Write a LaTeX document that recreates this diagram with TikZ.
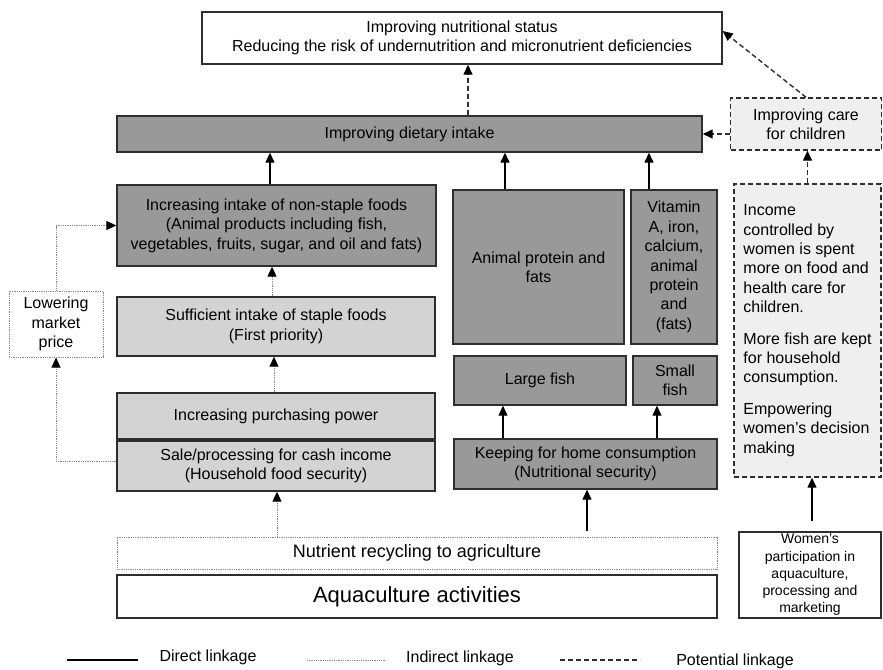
\documentclass[tikz,border=0pt]{standalone}
\usepackage{fontspec}
\setmainfont{Liberation Sans}
\usetikzlibrary{arrows.meta}
\definecolor{dk}{HTML}{999999}
\definecolor{lt}{HTML}{D3D3D3}
\definecolor{vl}{HTML}{EFEFEF}
\definecolor{edge}{HTML}{2E2E2E}
\definecolor{dotc}{HTML}{8A8A8A}
\begin{document}
\begin{tikzpicture}[x=1pt,y=-1pt,
  box/.style={draw=edge, line width=1.4pt, inner sep=2pt, align=center, font=\fontsize{16}{19.4}\selectfont},
  darkbox/.style={box, fill=dk},
  lightbox/.style={box, fill=lt},
  whitebox/.style={box, fill=white},
  dotbox/.style={box, fill=white, draw=dotc, line width=1pt, dash pattern=on 1pt off 0.8pt},
  potbox/.style={box, fill=vl, dash pattern=on 5pt off 3pt},
  tip/.style={-{Triangle[length=10pt,width=9pt,color=black]}},
  arr/.style={draw=black, line width=1.3pt, tip},
  ind/.style={draw=dotc, line width=1pt, dash pattern=on 1pt off 0.8pt, tip},
  pot/.style={draw=edge, line width=1.4pt, dash pattern=on 5pt off 3pt, tip},
  legend/.style={font=\fontsize{16}{18}\selectfont, inner sep=0pt}
]
\useasboundingbox (0,0) rectangle (883,669);

% nodes
\node[whitebox, minimum width=520, minimum height=52] (top) at (462,38)
  {Improving nutritional status\\Reducing the risk of undernutrition and micronutrient deficiencies};
\node[darkbox, minimum width=585, minimum height=36] (diet) at (409.5,134) {Improving dietary intake};
\node[darkbox, minimum width=319, minimum height=81] (nonstaple) at (276.5,225.5)
  {Increasing intake of non-staple foods\\(Animal products including fish,\\vegetables, fruits, sugar, and oil and fats)};
\node[dotbox, minimum width=94, minimum height=66] (lower) at (56,324) {Lowering\\market\\price};
\node[lightbox, minimum width=318, minimum height=59] (staple) at (276,326.5)
  {Sufficient intake of staple foods\\(First priority)};
\node[lightbox, minimum width=318, minimum height=46] (purch) at (276,416) {Increasing purchasing power};
\node[lightbox, minimum width=318, minimum height=50] (sale) at (276,466)
  {Sale/processing for cash income\\(Household food security)};
\node[dotbox, minimum width=600, minimum height=32, font=\fontsize{18}{20}\selectfont] (nutr) at (417,553)
  {Nutrient recycling to agriculture};
\node[whitebox, minimum width=600, minimum height=43, font=\fontsize{22}{25}\selectfont] (aqua) at (417,596.5)
  {Aquaculture activities};
\node[darkbox, minimum width=171, minimum height=154] (animal) at (538.5,267) {Animal protein and\\fats};
\node[darkbox, minimum width=86, minimum height=154] (vitamin) at (674,267)
  {Vitamin\\A, iron,\\calcium,\\animal\\protein\\and\\(fats)};
\node[darkbox, minimum width=172, minimum height=49] (large) at (540,380.5) {Large fish};
\node[darkbox, minimum width=84, minimum height=49] (small) at (675,380.5) {Small\\fish};
\node[darkbox, minimum width=263, minimum height=50] (keep) at (585.5,464)
  {Keeping for home consumption\\(Nutritional security)};
\node[potbox, minimum width=151, minimum height=52] (care) at (806,124) {Improving care\\for children};
\node[potbox, minimum width=147, minimum height=293, align=left] (income) at (807.5,330.5)
  {Income\\controlled by\\women is spent\\more on food and\\health care for\\children.\\[12pt]More fish are kept\\for household\\consumption.\\[12pt]Empowering\\women's decision\\making};
\node[whitebox, minimum width=142, minimum height=86, font=\fontsize{14}{17.3}\selectfont] (women) at (810,575)
  {Women's\\participation in\\aquaculture,\\processing and\\marketing};

% column coordinates
\coordinate (xa) at (270,0);
\coordinate (xb) at (272,0);
\coordinate (xc) at (274,0);
\coordinate (xd) at (277,0);
\coordinate (xe) at (505,0);
\coordinate (xf) at (649,0);
\coordinate (xg) at (503,0);
\coordinate (xh) at (657,0);
\coordinate (xi) at (587,0);
\coordinate (xj) at (468,0);
\coordinate (xm) at (812,0);

% direct linkages
\draw[arr] (xa |- nonstaple.north) -- (xa |- diet.south);
\draw[arr] (xe |- animal.north) -- (xe |- diet.south);
\draw[arr] (xf |- vitamin.north) -- (xf |- diet.south);
\draw[arr] (xg |- keep.north) -- (xg |- large.south);
\draw[arr] (xh |- keep.north) -- (xh |- small.south);
\draw[arr, shorten <=6pt] (xi |- nutr.north) -- (xi |- keep.south);
\draw[arr, shorten <=10pt] (xm |- women.north) -- (xm |- income.south);

% indirect linkages
\draw[ind] (xb |- staple.north) -- (xb |- nonstaple.south);
\draw[ind] (xc |- purch.north) -- (xc |- staple.south);
\draw[ind] (xd |- nutr.north) -- (xd |- sale.south);
\draw[ind] ([yshift=5pt]sale.west) -| (lower.south);
\draw[ind] (lower.north) |- (nonstaple.west);

% potential linkages
\draw[pot] (xj |- diet.north) -- (xj |- top.south);
\draw[pot] (care.north) -- ([yshift=7pt]top.east);
\draw[pot] (care.west |- diet.east) -- (diet.east);
\draw[pot] (income.north) -- (income.north |- care.south);

% legend
\coordinate (l1a) at (67,660); \coordinate (l1b) at (138,660);
\coordinate (l2a) at (307,660); \coordinate (l2b) at (386,660);
\coordinate (l3a) at (560,660); \coordinate (l3b) at (640,660);
\draw[black, line width=1.3pt] (l1a) -- (l1b);
\draw[dotc, line width=1pt, dash pattern=on 1pt off 0.8pt] (l2a) -- (l2b);
\draw[edge, line width=1.4pt, dash pattern=on 5pt off 3pt] (l3a) -- (l3b);
\node[legend] (lg1) at (208,657) {Direct linkage};
\node[legend] (lg2) at (460,658) {Indirect linkage};
\node[legend] (lg3) at (735,661) {Potential linkage};
\end{tikzpicture}
\end{document}
